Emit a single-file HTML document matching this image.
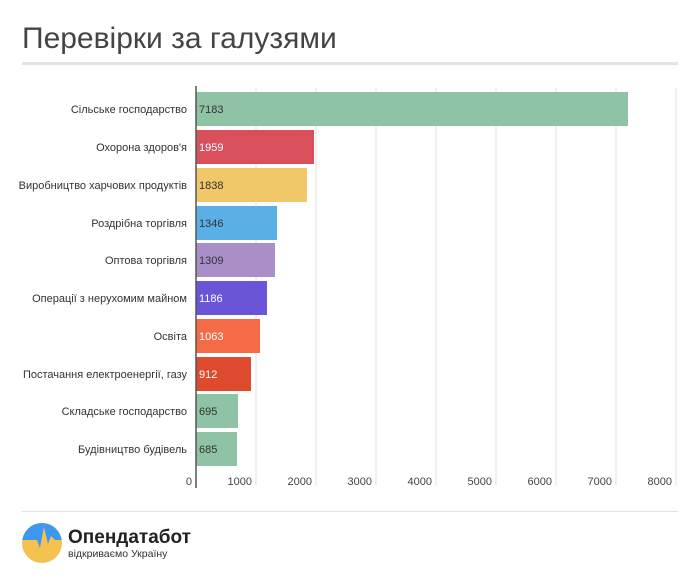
<!DOCTYPE html>
<html><head><meta charset="utf-8"><style>
body{margin:0;background:#fff;}
svg{display:block;font-family:"Liberation Sans",sans-serif;}
</style></head><body>
<svg width="700" height="578" viewBox="0 0 700 578">
<text x="22" y="48" font-size="30" fill="#444">Перевірки за галузями</text>
<rect x="22" y="62" width="656" height="3" fill="#e4e4e4"/>
<g stroke="#e2e2e2" stroke-width="1">
<line x1="256" y1="88" x2="256" y2="486"/><line x1="316" y1="88" x2="316" y2="486"/>
<line x1="376" y1="88" x2="376" y2="486"/><line x1="436" y1="88" x2="436" y2="486"/>
<line x1="496" y1="88" x2="496" y2="486"/><line x1="556" y1="88" x2="556" y2="486"/>
<line x1="616" y1="88" x2="616" y2="486"/><line x1="676" y1="88" x2="676" y2="486"/>
</g>
<g font-size="11" fill="#444" text-anchor="end">
<text x="192" y="485">0</text><text x="252" y="485">1000</text><text x="312" y="485">2000</text>
<text x="372" y="485">3000</text><text x="432" y="485">4000</text><text x="492" y="485">5000</text>
<text x="552" y="485">6000</text><text x="612" y="485">7000</text><text x="672" y="485">8000</text>
</g>
<g>
<rect x="196" y="92" width="432" height="34" fill="#8fc3a5"/>
<rect x="196" y="130" width="118" height="34" fill="#d94f5c"/>
<rect x="196" y="168" width="111" height="34" fill="#f0c86a"/>
<rect x="196" y="206" width="81" height="34" fill="#5ab0e4"/>
<rect x="196" y="243" width="79" height="34" fill="#a98ec8"/>
<rect x="196" y="281" width="71" height="34" fill="#6a55d8"/>
<rect x="196" y="319" width="64" height="34" fill="#f56b47"/>
<rect x="196" y="357" width="55" height="34" fill="#dd4a2e"/>
<rect x="196" y="394" width="42" height="34" fill="#8fc3a5"/>
<rect x="196" y="432" width="41" height="34" fill="#8fc3a5"/>
</g>
<line x1="196" y1="86" x2="196" y2="488" stroke="#555" stroke-width="1.5"/>
<g font-size="11" fill="#333" text-anchor="end">
<text x="187" y="113">Сільське господарство</text>
<text x="187" y="151">Охорона здоров'я</text>
<text x="187" y="189">Виробництво харчових продуктів</text>
<text x="187" y="227">Роздрібна торгівля</text>
<text x="187" y="264">Оптова торгівля</text>
<text x="187" y="302">Операції з нерухомим майном</text>
<text x="187" y="340">Освіта</text>
<text x="187" y="378">Постачання електроенергії, газу</text>
<text x="187" y="415">Складське господарство</text>
<text x="187" y="453">Будівництво будівель</text>
</g>
<g font-size="11">
<text x="199" y="113" fill="#333">7183</text>
<text x="199" y="151" fill="#fff">1959</text>
<text x="199" y="189" fill="#333">1838</text>
<text x="199" y="227" fill="#333">1346</text>
<text x="199" y="264" fill="#333">1309</text>
<text x="199" y="302" fill="#fff">1186</text>
<text x="199" y="340" fill="#fff">1063</text>
<text x="199" y="378" fill="#fff">912</text>
<text x="199" y="415" fill="#333">695</text>
<text x="199" y="453" fill="#333">685</text>
</g>
<rect x="22" y="511" width="656" height="1" fill="#e4e4e4"/>
<defs><clipPath id="c"><circle cx="42" cy="543" r="20"/></clipPath></defs>
<g clip-path="url(#c)">
<rect x="20" y="520" width="45" height="50" fill="#f3c24f"/>
<path d="M20 520 H65 V540 H55 L51 536 L48 544 L44 527 L40 548 L37 540 H20 Z" fill="#3f98f0"/>
</g>
<text x="68" y="543" font-size="19" font-weight="bold" fill="#222">Опендатабот</text>
<text x="68" y="557" font-size="10.5" fill="#333">відкриваємо Україну</text>
</svg>
</body></html>
